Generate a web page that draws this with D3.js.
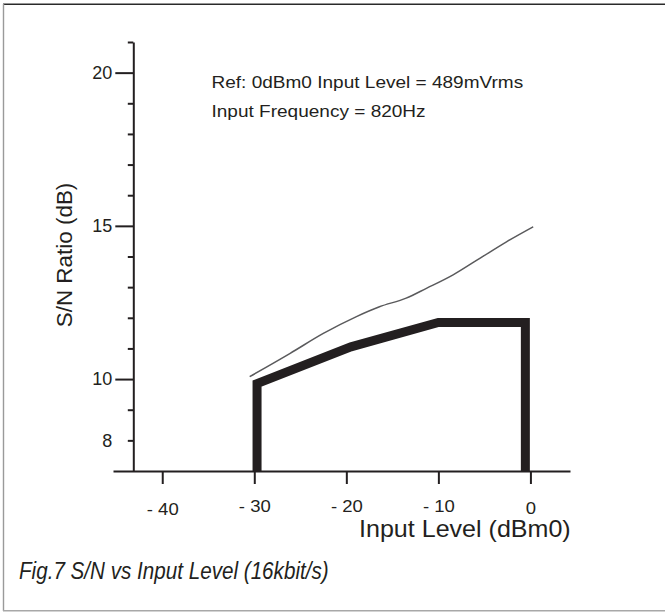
<!DOCTYPE html>
<html>
<head>
<meta charset="utf-8">
<script src="https://cdn.jsdelivr.net/npm/d3@7/dist/d3.min.js"></script>
<style>
  html, body { margin: 0; padding: 0; background: #fff; }
  svg { display: block; }
  text { font-family: "Liberation Sans", Arial, Helvetica, sans-serif; fill: #231f20; }
</style>
</head>
<body>
<svg id="chart" width="665" height="612"></svg>
<script>
// ---- data ----
const xTickValues = [-40, -30, -20, -10, 0];
const xTickLabels = ["- 40", "- 30", "- 20", "- 10", "0"];
const yMajorTicks = [20, 15, 10];
const yMinorTicks = [8, 9, 11, 12, 13, 14, 16, 17, 18, 19, 21];
const yLabelledMinor = [8];

// thin line: measured S/N curve
const thinX = [-30.5, -26.1, -22.5, -18.9, -16.4, -13.5, -11.3, -8.4, -5.5, -2.6, 0.3];
const thinY = [10.08, 10.84, 11.49, 12.04, 12.36, 12.64, 12.96, 13.40, 13.94, 14.48, 14.97];

// thick line: specification limit
const limitX = [-29.7, -29.7, -19.5, -10.0, -0.55, -0.55];
const limitY = [7.0, 9.85, 11.05, 11.85, 11.85, 7.0];

const xDomain = [-45.35, 4.3];
const yDomain = [7, 21];

const annotation = ["Ref: 0dBm0 Input Level = 489mVrms", "Input Frequency = 820Hz"];
const xTitle = "Input Level (dBm0)";
const yTitle = "S/N Ratio (dB)";
const caption = "Fig.7 S/N vs Input Level (16kbit/s)";

// ---- drawing ----
const svg = d3.select("#chart");
const ink = "#231f20";

// frame
svg.append("line").attr("x1", 3).attr("x2", 665).attr("y1", 4.3).attr("y2", 4.3)
  .attr("stroke", "#2a2a2a").attr("stroke-width", 1.6);
svg.append("line").attr("x1", 3.5).attr("x2", 3.5).attr("y1", 4).attr("y2", 611)
  .attr("stroke", "#9a9a9a").attr("stroke-width", 1.4);
svg.append("line").attr("x1", 3).attr("x2", 665).attr("y1", 610.8).attr("y2", 610.8)
  .attr("stroke", "#a8a8a8").attr("stroke-width", 1.4);

const x = d3.scaleLinear().domain(xDomain).range([113, 570]);
const y = d3.scaleLinear().domain(yDomain).range([471, 42]);
const yAxisX = 133.3;

const stretch = 1.09;

// X axis
const gx = svg.append("g").attr("transform", `translate(0,${y(7)})`)
  .call(d3.axisBottom(x).tickValues(xTickValues)
    .tickFormat((d, i) => xTickLabels[i]).tickSize(13).tickPadding(16).tickSizeOuter(0));
gx.select(".domain").attr("stroke", ink).attr("stroke-width", 2);
gx.selectAll(".tick line").attr("stroke", ink).attr("stroke-width", 2);
gx.selectAll(".tick text").attr("font-size", 17).attr("fill", ink)
  .attr("font-family", "Liberation Sans, Arial, sans-serif")
  .attr("transform", (d, i) => `translate(0,${i === 0 ? 2.5 : (i === 4 ? 1.5 : 0)}) scale(${stretch},1)`);

// Y axis: minor ticks
const gyMinor = svg.append("g").attr("transform", `translate(${yAxisX},0)`)
  .call(d3.axisLeft(y).tickValues(yMinorTicks)
    .tickFormat(d => yLabelledMinor.includes(d) ? String(d) : "")
    .tickSize(5.5).tickPadding(15.5).tickSizeOuter(0));
gyMinor.select(".domain").attr("stroke", ink).attr("stroke-width", 2);
gyMinor.selectAll(".tick line").attr("stroke", ink).attr("stroke-width", 2);
gyMinor.selectAll(".tick text").attr("font-size", 18).attr("fill", ink)
  .attr("font-family", "Liberation Sans, Arial, sans-serif");

// Y axis: major ticks
const gyMajor = svg.append("g").attr("transform", `translate(${yAxisX},0)`)
  .call(d3.axisLeft(y).tickValues(yMajorTicks).tickFormat(d3.format("d"))
    .tickSize(18).tickPadding(3).tickSizeOuter(0));
gyMajor.select(".domain").remove();
gyMajor.selectAll(".tick line").attr("stroke", ink).attr("stroke-width", 2);
gyMajor.selectAll(".tick text").attr("font-size", 18).attr("fill", ink)
  .attr("font-family", "Liberation Sans, Arial, sans-serif");

// thin measured curve
const thinData = thinX.map((v, i) => [v, thinY[i]]);
svg.append("path").datum(thinData)
  .attr("fill", "none").attr("stroke", "#5a5a5c").attr("stroke-width", 1.5)
  .attr("d", d3.line().x(d => x(d[0])).y(d => y(d[1])).curve(d3.curveMonotoneX));

// thick limit line
const limitData = limitX.map((v, i) => [v, limitY[i]]);
svg.append("path").datum(limitData)
  .attr("fill", "none").attr("stroke", ink).attr("stroke-width", 9)
  .attr("stroke-linejoin", "miter").attr("stroke-linecap", "butt")
  .attr("d", d3.line().x(d => x(d[0])).y(d => y(d[1])));

// annotation
svg.selectAll("text.note").data(annotation).enter().append("text")
  .attr("class", "note")
  .attr("transform", (d, i) => `translate(211.5,${87.5 + i * 29}) scale(1.12,1)`)
  .attr("font-size", 17)
  .text(d => d);

// axis titles
svg.append("text")
  .attr("transform", `translate(359,537) scale(${stretch},1)`)
  .attr("font-size", 23)
  .text(xTitle);

svg.append("text")
  .attr("transform", `translate(71.5,255) rotate(-90) scale(1.02,1)`)
  .attr("text-anchor", "middle")
  .attr("font-size", 22)
  .text(yTitle);

// caption
svg.append("text")
  .attr("transform", `translate(19,579) scale(0.86,1)`)
  .attr("font-size", 24)
  .attr("font-style", "italic")
  .text(caption);
</script>
</body>
</html>
